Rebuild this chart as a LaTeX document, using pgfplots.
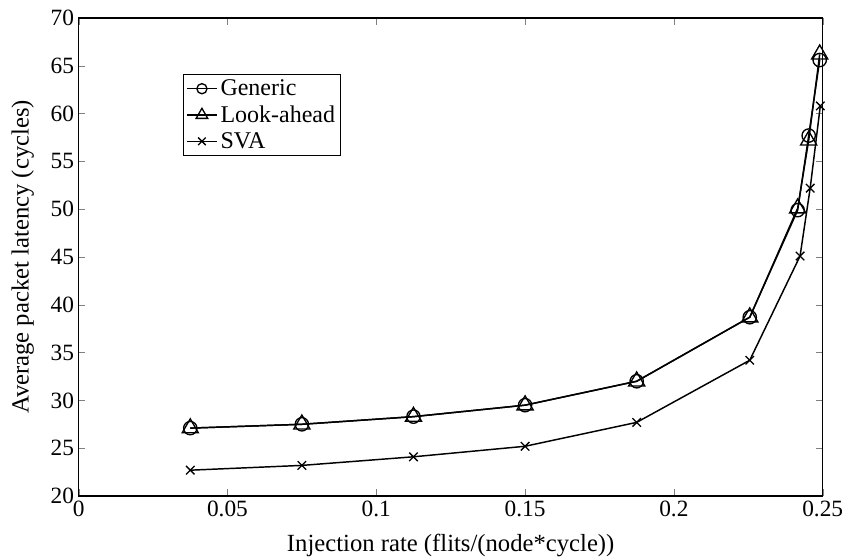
\documentclass[border=0pt]{standalone}
\usepackage{pgfplots}
\pgfplotsset{compat=1.18}
\usepackage{fontspec}
\setmainfont{Liberation Serif}
\begin{document}
\begin{tikzpicture}
\begin{axis}[
  name=ax,
  scale only axis,
  width=558pt, height=358.5pt,
  xmin=0, xmax=0.25, ymin=20, ymax=70,
  xtick={0,0.05,0.1,0.15,0.2,0.25},
  xticklabels={0,0.05,0.1,0.15,0.2,0.25},
  ytick={20,25,...,70},
  tick align=inside,
  tick pos=both,
  major tick length=5pt,
  /pgf/number format/assume math mode=true,
  tick label style={font=\fontsize{17.5}{20}\selectfont},
  label style={font=\fontsize{18.5}{21}\selectfont},
  xlabel={Injection rate (flits/(node*cycle))},
  ylabel={Average packet latency (cycles)},
  xlabel style={at={(axis description cs:0.5,0)}, anchor=center, yshift=-37pt},
  ylabel style={at={(axis description cs:0,0.5)}, anchor=center, yshift=42pt},
  axis line style={line width=0.8pt},
  legend style={at={(0.140,0.883)}, anchor=north west, draw=black, line width=0.8pt,
    font=\fontsize{18}{21}\selectfont, inner sep=2pt, row sep=2pt},
  legend cell align=left,
  legend image code/.code={\draw[mark repeat=2,mark phase=2] plot coordinates {(0cm,0cm) (0.4cm,0cm) (0.8cm,0cm)};},
  every axis plot/.append style={line width=1.1pt, black},
]
\addplot[mark=o, mark size=5pt, mark options={line width=1pt}, legend image post style={mark size=3.8pt}] coordinates {
(0.0375,27.1) (0.075,27.5) (0.1125,28.3) (0.15,29.5) (0.1875,32.0) (0.2255,38.7) (0.2416,49.9) (0.2453,57.7) (0.249,65.6)};
\addlegendentry{Generic}
\addplot[mark=triangle, mark size=7pt, mark options={line width=1pt}, legend image post style={mark size=5pt}] coordinates {
(0.0375,27.1) (0.075,27.5) (0.1125,28.3) (0.15,29.5) (0.1875,32.0) (0.2255,38.7) (0.2416,50.1) (0.2453,57.2) (0.249,66.2)};
\addlegendentry{Look-ahead}
\addplot[mark=x, mark size=4.5pt, mark options={line width=1pt}, legend image post style={mark size=4pt}] coordinates {
(0.0375,22.7) (0.075,23.2) (0.1125,24.1) (0.15,25.2) (0.1875,27.7) (0.2255,34.2) (0.2424,45.1) (0.2458,52.2) (0.2492,60.8)};
\addlegendentry{SVA}
\end{axis}
\pgfresetboundingbox
\useasboundingbox ([xshift=-59pt,yshift=-46.5pt]ax.south west) rectangle ([xshift=19pt,yshift=13.5pt]ax.north east);
\end{tikzpicture}
\end{document}
